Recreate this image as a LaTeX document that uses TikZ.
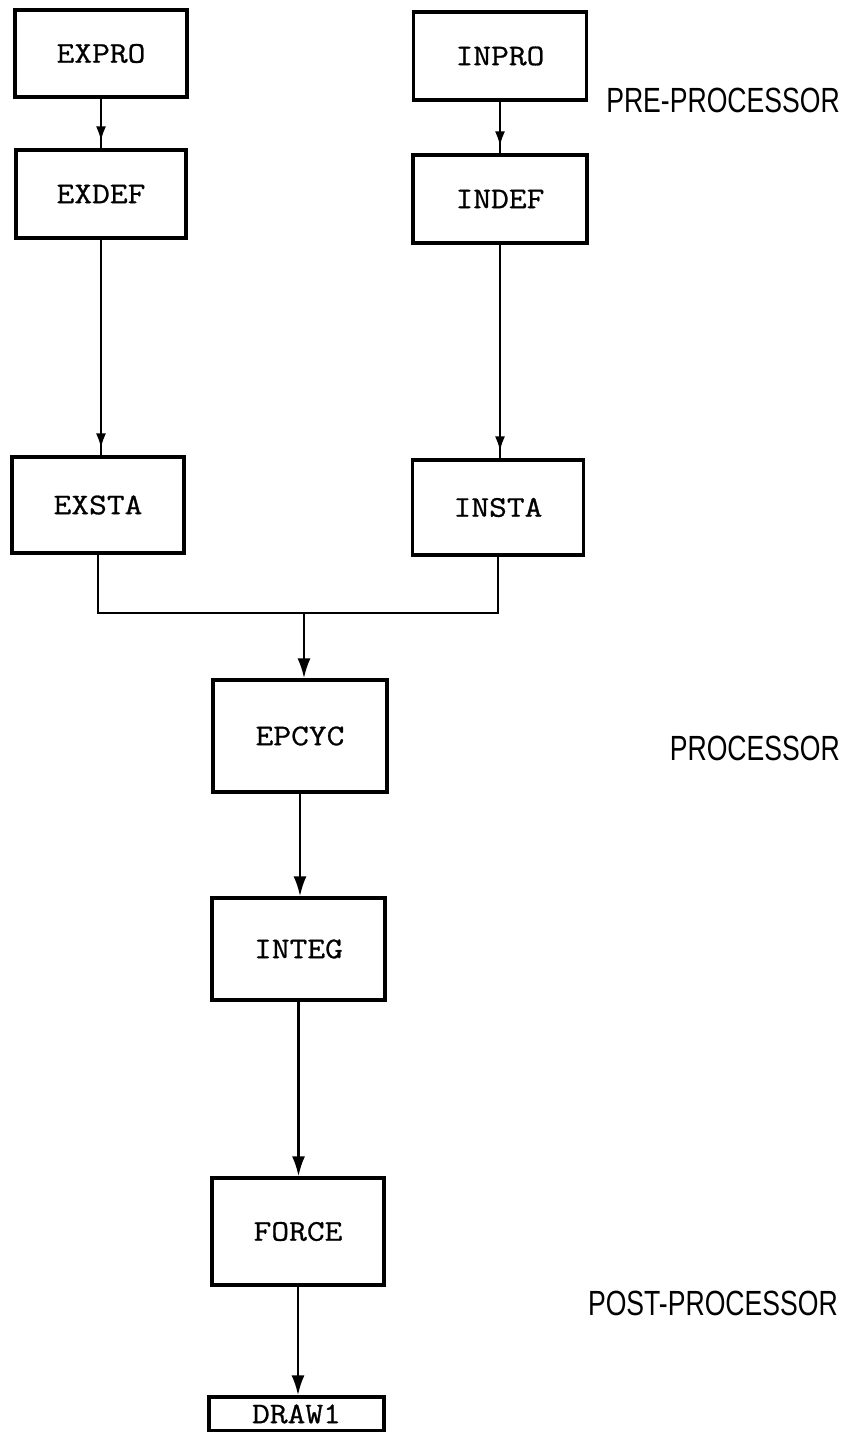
\documentclass[tikz,border=0pt]{standalone}
\usepackage{fontspec}
\setmainfont{Liberation Serif}
\newfontfamily\boxfont[FakeBold=0.8,FakeStretch=1.15]{Latin Modern Mono}
\newfontfamily\labfont[FakeStretch=0.76]{Liberation Sans}
\usetikzlibrary{arrows.meta,decorations.markings}
\begin{document}
\begin{tikzpicture}[x=1pt,y=-1pt,
  box/.style={draw,line width=3.2pt,rectangle,inner sep=0pt,
    font=\boxfont\fontsize{30}{32}\selectfont},
  lab/.style={anchor=east,inner sep=0pt,font=\labfont\fontsize{35}{40}\selectfont},
  conn/.style={line width=2.6pt},
  endarrow/.style={conn,-{Latex[length=20pt,width=13pt]}},
  gaparrow/.style={conn,postaction={decorate},
    decoration={markings,mark=at position -7pt with {\arrow{Latex[length=15pt,width=10pt]}}}}
]
\useasboundingbox (0,0) rectangle (860,1432);

% pre-processor
\node[box,minimum width=172pt,minimum height=87pt] (expro) at (101,53.5) {EXPRO};
\node[box,minimum width=170pt,minimum height=88pt] (exdef) at (101,194) {EXDEF};
\node[box,minimum width=173pt,minimum height=88pt] (inpro) at (500,56) {INPRO};
\node[box,minimum width=174pt,minimum height=88pt] (indef) at (500,199) {INDEF};
\node[box,minimum width=172pt,minimum height=96pt] (exsta) at (98,505) {EXSTA};
\node[box,minimum width=171pt,minimum height=95pt] (insta) at (498,507.5) {INSTA};

% processor
\node[box,minimum width=174pt,minimum height=112pt] (epcyc) at (300,736) {EPCYC};
\node[box,minimum width=173pt,minimum height=102pt] (integ) at (298.5,949) {INTEG};

% post-processor
\node[box,minimum width=172pt,minimum height=107pt] (force) at (298,1231.5) {FORCE};
\node[box,minimum width=175pt,minimum height=34pt] (draw1) at (296.5,1414) {DRAW1};

% side labels
\node[lab] (pre) at (840,100) {PRE-PROCESSOR};
\node[lab] (proc) at (840,748) {PROCESSOR};
\node[lab] (post) at (838,1303) {POST-PROCESSOR};

% connectors
\coordinate (j) at (304,613);
\draw[gaparrow] (expro.south) -- (exdef.north);
\draw[gaparrow] (inpro.south) -- (indef.north);
\draw[gaparrow] (exdef.south) -- (exdef.south |- exsta.north);
\draw[gaparrow] (indef.south) -- (indef.south |- insta.north);
\draw[conn] (exsta.south) |- (j) -| (insta.south);
\draw[endarrow] (j) -- (j |- epcyc.north);
\draw[endarrow] (epcyc.south) -- (epcyc.south |- integ.north);
\draw[endarrow] (integ.south) -- (integ.south |- force.north);
\draw[endarrow] (force.south) -- (force.south |- draw1.north);
\end{tikzpicture}
\end{document}
